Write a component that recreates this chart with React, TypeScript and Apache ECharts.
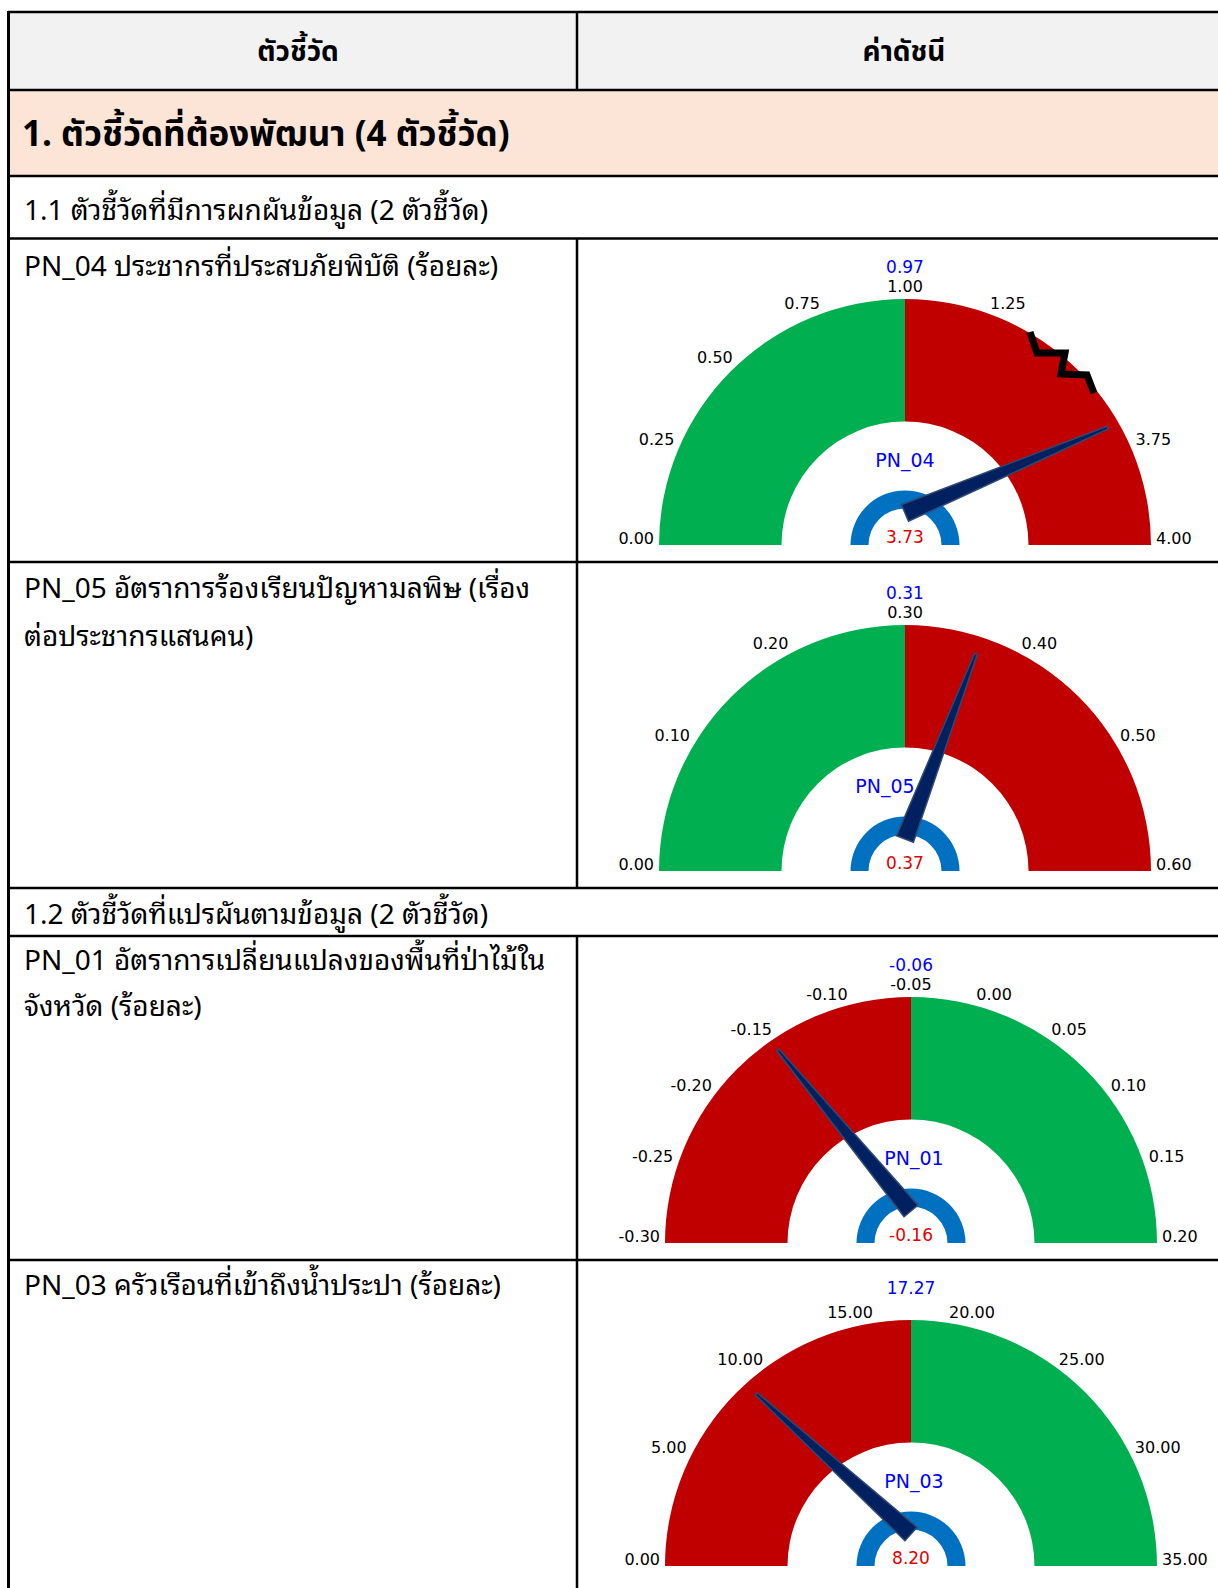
import React, { useEffect, useRef } from "react";
import * as echarts from "echarts";

// ---------------- data ----------------
const headerLabels = ["ตัวชี้วัด", "ค่าดัชนี"];
const sectionTitle = "1. ตัวชี้วัดที่ต้องพัฒนา (4 ตัวชี้วัด)";
const groupTitles = [
  "1.1 ตัวชี้วัดที่มีการผกผันข้อมูล (2 ตัวชี้วัด)",
  "1.2 ตัวชี้วัดที่แปรผันตามข้อมูล (2 ตัวชี้วัด)",
];
const indicatorCodes = ["PN_04", "PN_05", "PN_01", "PN_03"];
const indicatorNames = [
  ["PN_04 ประชากรที่ประสบภัยพิบัติ (ร้อยละ)"],
  ["PN_05 อัตราการร้องเรียนปัญหามลพิษ (เรื่อง", "ต่อประชากรแสนคน)"],
  ["PN_01 อัตราการเปลี่ยนแปลงของพื้นที่ป่าไม้ใน", "จังหวัด (ร้อยละ)"],
  ["PN_03 ครัวเรือนที่เข้าถึงน้ำประปา (ร้อยละ)"],
];
const indexValues = [3.73, 0.37, -0.16, 8.2];
const referenceValues = [0.97, 0.31, -0.06, 17.27];
// tick values of each gauge (PN_04 has a broken scale between 1.25 and 3.75)
const ticksPN04 = [0, 0.25, 0.5, 0.75, 1.0, 1.25, 2.5, 3.75, 4.0];
const ticksPN05 = [0, 0.1, 0.2, 0.3, 0.4, 0.5, 0.6];
const ticksPN01 = [-0.3, -0.25, -0.2, -0.15, -0.1, -0.05, 0, 0.05, 0.1, 0.15, 0.2];
const ticksPN03 = [0, 5, 10, 15, 20, 25, 30, 35];
const gaugeTicks = [ticksPN04, ticksPN05, ticksPN01, ticksPN03];
const hiddenTickIndex = [[6], [], [], []];
// true = green on the lower half (lower is better)
const lowerIsGood = [true, true, false, false];

// ---------------- styles / layout ----------------
const W = 1218;
const H = 1588;
const GREEN = "#00b050";
const RED = "#c00000";
const RING = "#0070c0";
const NEEDLE = "#002060";
const FONT_HEAD = "'Noto Sans Thai', 'Noto Sans', 'DejaVu Sans', sans-serif";
const FONT_BODY = "'Noto Sans Thai Looped', 'Noto Sans Thai', 'Noto Sans', 'DejaVu Sans', sans-serif";
const FONT_G = "'DejaVu Sans', Tahoma, sans-serif";
const TICK_FS = 16;

const gaugeCenters = [
  [905, 545],
  [905, 871],
  [911, 1243],
  [911, 1566],
];
const needleLengths = [220, 198, 209, 209];
const titleShiftX = [0, -20, 3, 3];
const R_OUT = 246;
const BAND = 122.5;
const PIVOT_UP = 32;
const LABEL_GAP = 5;

function toIndex(ticks: number[], v: number) {
  const n = ticks.length - 1;
  if (v <= ticks[0]) return 0;
  for (let k = 0; k < n; k++) {
    if (v <= ticks[k + 1]) return k + (v - ticks[k]) / (ticks[k + 1] - ticks[k]);
  }
  return n;
}

function textWidth(s: string, fs: number) {
  let w = 0;
  for (const ch of s) {
    if (ch === ".") w += 0.318;
    else if (ch === "-") w += 0.361;
    else w += 0.636;
  }
  return w * fs;
}

function buildOption() {
  const graphics: any[] = [];
  const line = (x1: number, y1: number, x2: number, y2: number, w = 2.5) =>
    graphics.push({
      type: "line",
      shape: { x1, y1, x2, y2 },
      style: { stroke: "#000", lineWidth: w },
      silent: true,
    });
  const text = (t: string, x: number, y: number, size: number, bold = false, align = "left") =>
    graphics.push({
      type: "text",
      x,
      y,
      style: {
        text: t,
        fill: "#000",
        fontSize: size,
        fontWeight: bold ? "bold" : "normal",
        fontFamily: bold ? FONT_HEAD : FONT_BODY,
        align,
        verticalAlign: "middle",
      },
      silent: true,
    });

  // backgrounds
  graphics.push({ type: "rect", shape: { x: 8, y: 12, width: W, height: 78 }, style: { fill: "#f2f2f2" }, silent: true });
  graphics.push({ type: "rect", shape: { x: 8, y: 90, width: W, height: 86 }, style: { fill: "#fce4d6" }, silent: true });

  // horizontal lines
  [12, 90, 176, 238.5, 562, 888, 936, 1260].forEach((y) => line(8, y, W, y));
  // left border
  line(8.5, 11, 8.5, H, 3);
  // column divider
  line(577, 12, 577, 90);
  line(577, 238.5, 577, 888);
  line(577, 936, 577, H);

  // texts
  text(headerLabels[0], 298, 52, 28, true, "center");
  text(headerLabels[1], 904, 52, 28, true, "center");
  text(sectionTitle, 22, 135, 35, true);
  text(groupTitles[0], 24, 207, 28);
  text(groupTitles[1], 24, 911, 28);
  const nameY = [[263], [585, 633], [957, 1003], [1282]];
  indicatorNames.forEach((lines, i) => lines.forEach((l, j) => text(l, 24, nameY[i][j], 28)));

  // break mark on the PN_04 scale
  const [bx, by] = gaugeCenters[0];
  const zig = [
    [125, -213],
    [132, -192],
    [160, -192],
    [156, -171],
    [182, -170],
    [189, -152],
  ].map(([dx, dy]) => [bx + dx, by + dy]);
  const zigEl = {
    type: "polyline",
    shape: { points: zig },
    style: { stroke: "#000", lineWidth: 7, fill: null, lineJoin: "miter" },
    z: 100,
    silent: true,
  };

  const series: any[] = [];
  gaugeTicks.forEach((ticks, i) => {
    const n = ticks.length - 1;
    const [cx, cy] = gaugeCenters[i];
    const c1 = lowerIsGood[i] ? GREEN : RED;
    const c2 = lowerIsGood[i] ? RED : GREEN;
    const refV = referenceValues[i];
    const val = indexValues[i];
    const base = {
      type: "gauge",
      startAngle: 180,
      endAngle: 0,
      min: 0,
      max: n,
      splitNumber: n,
      silent: true,
      axisTick: { show: false },
      splitLine: { show: false, length: 0, distance: 0 },
      anchor: { show: false },
    };
    // rich styles pushing each tick label outward (constant gap from the arc)
    const rich: Record<string, any> = {};
    ticks.forEach((t, k) => {
      const th = Math.PI - (k / n) * Math.PI;
      const w = textWidth(t.toFixed(2), TICK_FS);
      const h = TICK_FS * 0.95;
      const sx = Math.cos(th) * (w / 2);
      const sy = -Math.sin(th) * (h / 2) - 7 * Math.abs(Math.cos(th));
      const pad = [0, 0, 0, 0];
      if (sx < 0) pad[1] = -2 * sx;
      else pad[3] = 2 * sx;
      if (sy < 0) pad[2] = -2 * sy;
      else pad[0] = 2 * sy;
      rich["t" + k] = {
        padding: pad,
        color: "#000",
        fontSize: TICK_FS,
        fontFamily: FONT_G,
      };
    });

    // main coloured arc, code name and reference value
    series.push({
      ...base,
      center: [cx, cy],
      radius: R_OUT,
      axisLine: { lineStyle: { width: BAND, color: [[0.5, c1], [1, c2]] } },
      axisLabel: { show: false },
      pointer: { show: false },
      title: {
        show: true,
        offsetCenter: [titleShiftX[i], -85],
        color: "#0000ff",
        fontSize: 19,
        fontWeight: "normal",
        fontFamily: FONT_G,
      },
      detail: {
        show: true,
        offsetCenter: [0, -278],
        color: "#0000ff",
        fontSize: 17,
        fontWeight: "normal",
        fontFamily: FONT_G,
        formatter: () => refV.toFixed(2),
      },
      data: [{ value: toIndex(ticks, refV), name: indicatorCodes[i] }],
    });
    // tick labels
    series.push({
      ...base,
      center: [cx, cy],
      radius: R_OUT,
      axisLine: { show: false, lineStyle: { width: 0 } },
      axisLabel: {
        show: true,
        distance: -LABEL_GAP,
        rotate: 0.0001,
        color: "#000",
        fontSize: TICK_FS,
        fontFamily: FONT_G,
        rich,
        formatter: (v: number) => {
          const k = Math.round(v);
          if (hiddenTickIndex[i].includes(k)) return "";
          return "{t" + k + "|" + ticks[k].toFixed(2) + "}";
        },
      },
      pointer: { show: false },
      title: { show: false },
      detail: { show: false },
      data: [],
    });
    // inner blue ring
    series.push({
      ...base,
      center: [cx, cy],
      radius: 54.5,
      axisLine: { lineStyle: { width: 18, color: [[1, RING]] } },
      axisLabel: { show: false },
      pointer: { show: false },
      title: { show: false },
      detail: { show: false },
      data: [],
    });
    // needle
    series.push({
      ...base,
      center: [cx, cy - PIVOT_UP],
      radius: needleLengths[i],
      axisLine: { show: false, lineStyle: { width: 0 } },
      axisLabel: { show: false },
      pointer: {
        show: true,
        icon: "path://M0,100 L42,0 L58,0 L100,100 Z",
        length: "100%",
        width: 18,
        itemStyle: { color: NEEDLE, borderColor: "#2f4a72", borderWidth: 1.5 },
      },
      title: { show: false },
      detail: {
        show: true,
        offsetCenter: [0, PIVOT_UP - 8],
        color: "#e00000",
        fontSize: 17,
        fontWeight: "normal",
        fontFamily: FONT_G,
        formatter: () => val.toFixed(2),
      },
      data: [{ value: toIndex(ticks, val), name: "" }],
    });
  });

  return {
    animation: false,
    backgroundColor: "#ffffff",
    graphic: { elements: [...graphics, zigEl] },
    series,
  };
}

export default function App() {
  const ref = useRef<HTMLDivElement>(null);
  useEffect(() => {
    document.body.style.margin = "0";
    const chart = echarts.init(ref.current!, null, { renderer: "svg" });
    chart.setOption(buildOption() as any);
    return () => chart.dispose();
  }, []);
  return <div ref={ref} style={{ width: W, height: H }} />;
}
